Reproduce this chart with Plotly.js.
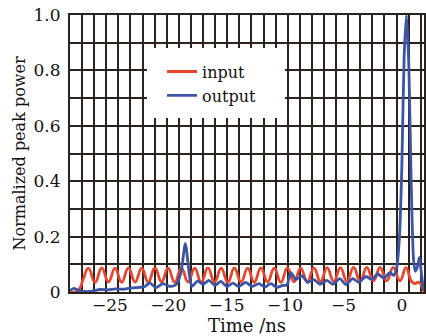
<!DOCTYPE html>
<html>
<head>
<meta charset="utf-8">
<script src="https://cdn.plot.ly/plotly-3.0.1.min.js"></script>
<style>html,body{margin:0;padding:0;background:#fff;}#chart{width:426px;height:336px;}</style>
</head>
<body>
<div id="chart"></div>
<script>
// Input pulse train (red)
const inputTime = [-28.42,-28.0,-27.6,-27.3,-26.84,-26.27,-25.7,-25.13,-24.56,-24.0,-23.42,-22.85,-22.28,-21.72,-21.15,-20.58,-20.02,-19.45,-18.88,-18.31,-17.74,-17.18,-16.61,-16.04,-15.47,-14.9,-14.34,-13.77,-13.2,-12.64,-12.07,-11.5,-10.93,-10.36,-9.8,-9.23,-8.66,-8.1,-7.53,-6.96,-6.4,-5.83,-5.26,-4.7,-4.13,-3.56,-3.0,-2.43,-1.86,-1.3,-0.73,-0.16,0.36,0.8,1.1,1.4,1.6,1.8,1.95];
const inputPower = [0.0,0.0,0.012,0.045,0.086,0.035,0.087,0.036,0.086,0.035,0.087,0.036,0.086,0.035,0.087,0.036,0.086,0.035,0.087,0.036,0.086,0.035,0.087,0.036,0.086,0.035,0.087,0.036,0.086,0.035,0.087,0.036,0.086,0.035,0.087,0.037,0.086,0.036,0.087,0.037,0.088,0.038,0.088,0.038,0.089,0.039,0.089,0.04,0.089,0.04,0.089,0.04,0.088,0.04,0.03,0.036,0.03,0.012,0.0];

// Output (blue)
const outputTime = [-28.42,-28.08,-27.74,-27.23,-26.54,-25.86,-25.17,-24.49,-23.8,-23.12,-22.43,-22.0,-21.58,-21.06,-20.46,-19.86,-19.35,-18.92,-18.54,-18.19,-17.98,-17.47,-17.04,-16.52,-16.01,-15.5,-14.98,-14.47,-13.96,-13.36,-12.84,-12.24,-11.73,-11.22,-10.7,-10.19,-9.85,-9.5,-9.08,-8.56,-8.05,-7.53,-7.02,-6.42,-5.91,-5.31,-4.79,-4.2,-3.68,-3.08,-2.57,-2.05,-1.54,-1.03,-0.68,-0.43,-0.2,0.0,0.2,0.4,0.6,0.8,1.0,1.15,1.33,1.5,1.67,1.84,1.9];
const outputPower = [0.005,0.013,0.006,0.002,0.003,0.009,0.008,0.011,0.01,0.015,0.017,0.02,0.033,0.016,0.03,0.02,0.026,0.07,0.175,0.06,0.02,0.04,0.028,0.042,0.024,0.038,0.02,0.032,0.02,0.035,0.02,0.03,0.018,0.03,0.017,0.024,0.025,0.07,0.045,0.058,0.035,0.045,0.028,0.042,0.028,0.048,0.027,0.048,0.035,0.056,0.045,0.065,0.05,0.07,0.06,0.09,0.2,0.45,0.85,1.0,0.82,0.4,0.12,0.075,0.09,0.125,0.07,0.015,0.005];

const yTickVals = [0, 0.2, 0.4, 0.6, 0.8, 1.0];
const yTickText = ['0', '0.2', '0.4', '0.6', '0.8', '1.0'];
const xTickVals = [-25, -20, -15, -10, -5, 0];

const gridColor = '#2b221d';
const fontFam = 'DejaVu Serif, serif';

const traces = [
  {x: inputTime, y: inputPower, type: 'scatter', mode: 'lines', name: 'input',
   line: {color: '#e8452c', width: 2.8, shape: 'spline', smoothing: 1.3}},
  {x: outputTime, y: outputPower, type: 'scatter', mode: 'lines', name: 'output',
   line: {color: '#3b54a6', width: 2.8, shape: 'spline', smoothing: 0.6}}
];

const layout = {
  width: 426, height: 336,
  margin: {l: 70, r: 2, t: 15, b: 44},
  paper_bgcolor: '#fff', plot_bgcolor: '#fff',
  font: {family: fontFam, size: 16, color: '#111'},
  showlegend: true,
  legend: {x: 0.26, y: 0.857, xanchor: 'left', yanchor: 'top', bgcolor: 'rgba(0,0,0,0)',
           font: {family: fontFam, size: 16, color: '#111'}, tracegroupgap: 0},
  xaxis: {
    range: [-28.42, 1.9], tickvals: xTickVals, showgrid: false, zeroline: false,
    showline: true, mirror: true, linecolor: gridColor, linewidth: 2,
    ticks: '', ticklabelstandoff: -3, tickfont: {family: fontFam, size: 17, color: '#111'},
    minor: {tick0: -28.42, dtick: 1.036, showgrid: true, gridcolor: gridColor, gridwidth: 2, ticks: ''},
    title: {text: 'Time /ns', font: {family: fontFam, size: 18, color: '#111'}, standoff: 2}
  },
  yaxis: {
    range: [0, 1], tickvals: yTickVals, ticktext: yTickText, zeroline: false,
    showgrid: true, gridcolor: gridColor, gridwidth: 2,
    showline: true, mirror: true, linecolor: gridColor, linewidth: 2,
    ticks: '', ticklabelstandoff: 4, tickfont: {family: fontFam, size: 17, color: '#111'},
    minor: {dtick: 0.1, showgrid: true, gridcolor: gridColor, gridwidth: 2, ticks: ''},
    title: {text: 'Normalized peak power', font: {family: fontFam, size: 16, color: '#111'}, standoff: 4}
  },
  shapes: [
    {type: 'rect', xref: 'paper', yref: 'paper', x0: 0.2175, x1: 0.607, y0: 0.628, y1: 0.881,
     fillcolor: '#fff', line: {width: 0}, layer: 'above'}
  ]
};

Plotly.newPlot('chart', traces, layout, {displayModeBar: false, staticPlot: true});
</script>
</body>
</html>
